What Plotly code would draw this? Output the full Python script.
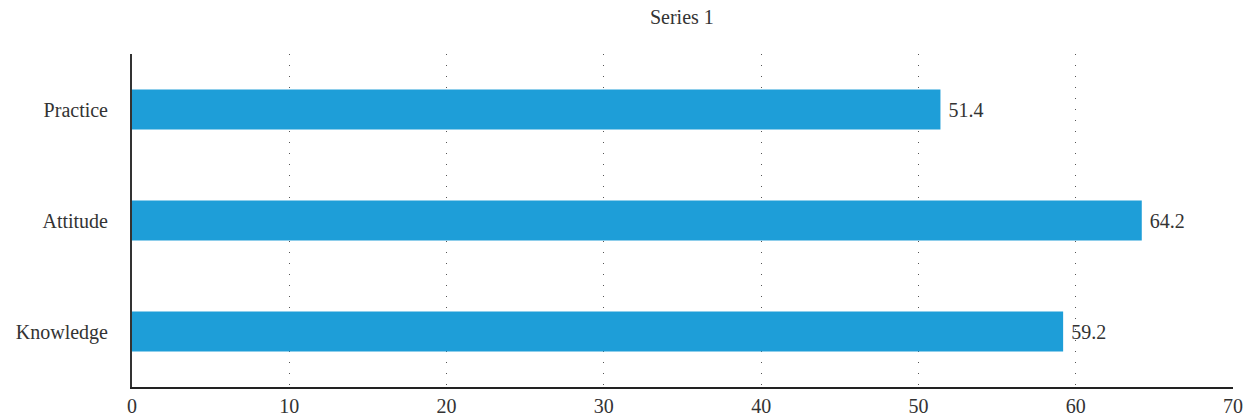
import plotly.graph_objects as go

categories = ["Knowledge", "Attitude", "Practice"]
values = [59.2, 64.2, 51.4]
x_ticks = [0, 10, 20, 30, 40, 50, 60, 70]

FONT = "Liberation Serif"
fig = go.Figure(go.Bar(
    x=values, y=categories, orientation="h",
    marker=dict(color="#1E9ED8", line=dict(width=0)),
    width=0.36,
    text=[f"\u00a0{v:.1f}" for v in values], textposition="outside",
    textfont=dict(family=FONT, size=20, color="#333333"),
    cliponaxis=False,
))
fig.update_layout(
    width=1250, height=417,
    margin=dict(l=132, r=17, t=54, b=30),
    plot_bgcolor="white", paper_bgcolor="white",
    title=dict(text="Series 1", x=0.5455, xanchor="center", y=0.96, yanchor="middle",
               font=dict(family=FONT, size=20, color="#333333")),
    showlegend=False,
    font=dict(family=FONT, size=20, color="#333333"),
)
fig.update_xaxes(
    range=[0, 70], tickvals=x_ticks, showgrid=True, gridcolor="#555555", gridwidth=1,
    griddash="1px,10px", showline=True, linecolor="#222222", linewidth=2,
    zeroline=False, ticks="", ticklabelstandoff=0, automargin=False,
    tickfont=dict(family=FONT, size=20, color="#333333"),
)
fig.update_yaxes(
    range=[-0.5, 2.5], showgrid=False, showline=True, linecolor="#333333", linewidth=2,
    ticks="", ticklabelstandoff=18, automargin=False,
    tickfont=dict(family=FONT, size=20, color="#333333"),
)
fig.write_html("out.html")
